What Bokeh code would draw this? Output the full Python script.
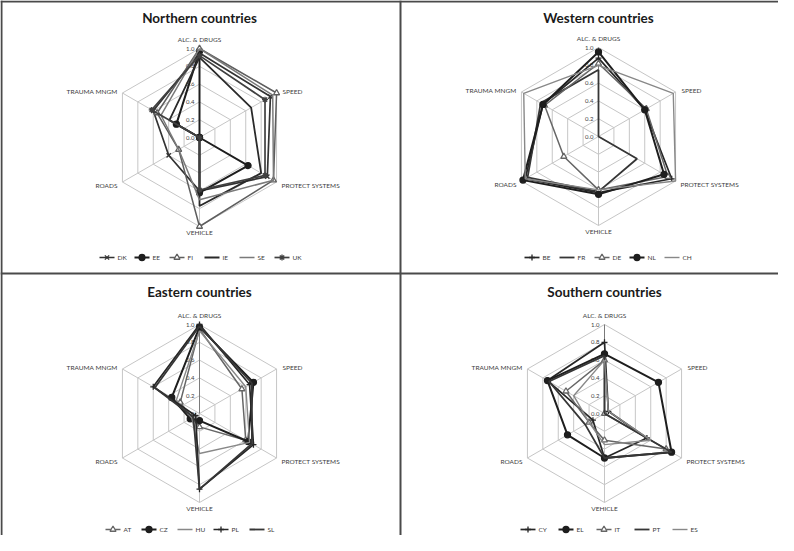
import numpy as np
from bokeh.plotting import figure
from bokeh.models import Range1d
from bokeh.embed import file_html
from bokeh.resources import INLINE
from bokeh.core.properties import value

# ---------------- data ----------------
axis_labels = ["ALC. & DRUGS", "SPEED", "PROTECT SYSTEMS", "VEHICLE", "ROADS", "TRAUMA MNGM"]
tick_values = [0.0, 0.2, 0.4, 0.6, 0.8, 1.0]
tick_labels = ["0.0", "0.2", "0.4", "0.6", "0.8", "1.0"]

north_countries = ["DK", "EE", "FI", "IE", "SE", "UK"]
north_DK = [0.95, 0.92, 0.88, 0.60, 0.40, 0.60]
north_EE = [0.97, 0.00, 0.63, 0.62, 0.00, 0.30]
north_FI = [1.00, 1.00, 0.96, 1.00, 0.27, 0.55]
north_IE = [0.90, 0.67, 0.80, 0.77, 0.00, 0.39]
north_SE = [1.00, 0.95, 0.96, 0.70, 0.27, 0.50]
north_UK = [0.92, 0.85, 0.85, 0.59, 0.00, 0.62]

west_countries = ["BE", "FR", "DE", "NL", "CH"]
west_BE = [0.88, 0.60, 0.95, 0.63, 0.95, 0.72]
west_FR = [0.75, 0.00, 0.50, 0.62, 0.92, 0.75]
west_DE = [0.82, 0.62, 0.90, 0.60, 0.45, 0.70]
west_NL = [0.95, 0.60, 0.85, 0.65, 0.98, 0.72]
west_CH = [0.80, 0.97, 1.00, 0.60, 0.95, 0.97]

east_countries = ["AT", "CZ", "HU", "PL", "SL"]
east_AT = [0.95, 0.55, 0.60, 0.15, 0.10, 0.25]
east_CZ = [0.97, 0.70, 0.63, 0.08, 0.12, 0.36]
east_HU = [0.93, 0.60, 0.65, 0.45, 0.10, 0.30]
east_PL = [1.00, 0.65, 0.70, 0.85, 0.05, 0.60]
east_SL = [0.98, 0.68, 0.68, 0.85, 0.08, 0.58]

south_countries = ["CY", "EL", "IT", "PT", "ES"]
south_CY = [0.80, 0.05, 0.55, 0.50, 0.15, 0.74]
south_EL = [0.67, 0.70, 0.87, 0.50, 0.48, 0.74]
south_IT = [0.60, 0.00, 0.80, 0.30, 0.20, 0.50]
south_PT = [0.65, 0.00, 0.87, 0.50, 0.25, 0.72]
south_ES = [0.60, 0.05, 0.60, 0.35, 0.20, 0.40]

# ---------------- figure ----------------
W, H = 778, 535
p = figure(width=W, height=H, output_backend="svg", toolbar_location=None,
           x_range=Range1d(8, 8 + W), y_range=Range1d(8 + H, 8),
           min_border=0, outline_line_color=None)
p.axis.visible = False
p.grid.visible = False
p.background_fill_color = "white"

FONT = value("Lato")
R = 89
angles = np.deg2rad([90 - 60 * k for k in range(6)])


def polar(cx, cy, vals):
    v = np.asarray(vals, dtype=float)
    return list(cx + R * v * np.cos(angles)), list(cy - R * v * np.sin(angles))


def draw_panel(cx, cy, title, countries, series, styles, leg_x0, leg_dx, leg_y, title_y):
    # grid rings
    xs, ys = [], []
    for t in tick_values[1:]:
        x, y = polar(cx, cy, [t] * 6)
        xs.append(x + [x[0]])
        ys.append(y + [y[0]])
    p.multi_line(xs, ys, line_color="#c6c6c6", line_width=1)
    # spokes
    ox, oy = polar(cx, cy, [1.0] * 6)
    p.multi_line([[cx, ox[k]] for k in range(6)], [[cy, oy[k]] for k in range(6)],
                 line_color="#c6c6c6", line_width=1)
    p.line([cx, ox[0]], [cy, oy[0]], line_color="#7a7a7a", line_width=1)
    # tick labels
    p.text(x=[cx - 5] * len(tick_values), y=[cy - R * t for t in tick_values], text=tick_labels,
           text_font=FONT, text_font_size="6px", text_align="right", text_baseline="middle",
           text_color="#404040")
    # axis category labels
    offs = [(0, -R - 9, "center"), (R * 0.866 + 6, -R * 0.5 - 2, "left"),
            (R * 0.866 + 5, R * 0.5 + 3, "left"), (0, R + 6, "center"),
            (-R * 0.866 - 5, R * 0.5 + 3, "right"), (-R * 0.866 - 5, -R * 0.5 - 2, "right")]
    for k, (dx, dy, al) in enumerate(offs):
        p.text(x=[cx + dx], y=[cy + dy], text=[axis_labels[k]], text_font=FONT,
               text_font_size="6.5px", text_align=al, text_baseline="middle",
               text_color="#404040")
    # title
    p.text(x=[cx], y=[title_y], text=[title], text_font=FONT, text_font_size="13.5px",
           text_font_style="bold", text_align="center", text_baseline="middle",
           text_color="#1a1a1a")
    # series
    for i, (name, vals) in enumerate(zip(countries, series)):
        color, width, marker = styles[i]
        x, y = polar(cx, cy, vals)
        p.line(x + [x[0]], y + [y[0]], line_color=color, line_width=width)
        if marker:
            fill = "white" if marker == "triangle" else color
            p.scatter(x, y, marker=marker, size=6, line_color=color, fill_color=fill,
                      line_width=1.3)
        # legend
        x0 = leg_x0 + i * leg_dx
        p.line([x0, x0 + 15], [leg_y, leg_y], line_color=color, line_width=width)
        if marker:
            fill = "white" if marker == "triangle" else color
            p.scatter([x0 + 7.5], [leg_y], marker=marker, size=6, line_color=color,
                      fill_color=fill, line_width=1.3)
        p.text(x=[x0 + 18], y=[leg_y], text=[name], text_font=FONT, text_font_size="6.5px",
               text_align="left", text_baseline="middle", text_color="#404040")


north_styles = [("#333333", 1.7, "x"), ("#1e1e1e", 2.0, "circle"), ("#5e5e5e", 1.5, "triangle"),
                ("#2a2a2a", 1.8, None), ("#7a7a7a", 1.5, None), ("#404040", 1.7, "asterisk")]
west_styles = [("#262626", 1.7, "cross"), ("#363636", 1.8, None), ("#666666", 1.5, "triangle"),
               ("#1e1e1e", 2.0, "circle"), ("#888888", 1.4, None)]
east_styles = [("#666666", 1.5, "triangle"), ("#1e1e1e", 2.0, "circle"), ("#888888", 1.4, None),
               ("#262626", 1.7, "cross"), ("#363636", 1.8, None)]
south_styles = [("#262626", 1.7, "cross"), ("#1e1e1e", 2.0, "circle"), ("#666666", 1.5, "triangle"),
                ("#363636", 1.8, None), ("#888888", 1.4, None)]

draw_panel(207, 145, "Northern countries", north_countries,
           [north_DK, north_EE, north_FI, north_IE, north_SE, north_UK], north_styles,
           107, 35, 265, 25)
draw_panel(606, 144, "Western countries", west_countries,
           [west_BE, west_FR, west_DE, west_NL, west_CH], west_styles,
           532, 35, 265, 25)
draw_panel(207, 421, "Eastern countries", east_countries,
           [east_AT, east_CZ, east_HU, east_PL, east_SL], east_styles,
           113, 36, 537, 299)
draw_panel(612, 421, "Southern countries", south_countries,
           [south_CY, south_EL, south_IT, south_PT, south_ES], south_styles,
           528, 38, 537, 299)

# cell borders
border = "#4a4a4a"
p.line([9, 9], [8, 8 + H], line_color=border, line_width=2)
p.line([8, 8 + W], [9, 9], line_color=border, line_width=2)
p.line([408, 408], [8, 8 + H], line_color=border, line_width=2)
p.line([8, 8 + W], [281, 281], line_color=border, line_width=2)

open("out.html", "w").write(file_html(p, INLINE))
